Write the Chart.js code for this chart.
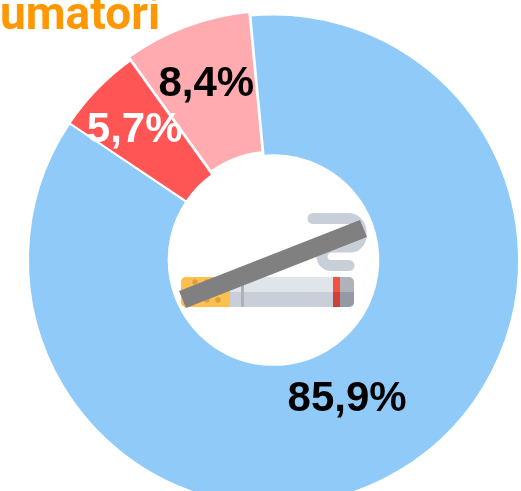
<!DOCTYPE html>
<html><head><meta charset="utf-8">
<style>html,body{margin:0;padding:0;background:#fff;overflow:hidden;width:521px;height:491px}
#w{position:absolute;left:0;top:0;width:547px;height:520px}</style>
<script src="https://cdn.jsdelivr.net/npm/chart.js@4"></script></head>
<body><div id="w"><canvas id="c" width="547" height="520"></canvas></div>
<script>
const categories = ['Non fumatori', 'Fumatori occasionali', 'Fumatori'];
const values = [85.9, 5.7, 8.4];
const valueLabels = ['85,9%', '5,7%', '8,4%'];
const titleText = 'umatori';

const sliceColors = ['#90CAF9', '#FF5555', '#FFABAF'];
const labelColors = ['#000000', '#FFFFFF', '#000000'];
const sliceOffsets = [0, 0, 10];
const labelOffsets = [[-16, -11], [-13, -8], [-4, -7]];

function pill(ctx, x, y, w, h, r, fill) {
  ctx.fillStyle = fill; ctx.beginPath(); ctx.roundRect(x, y, w, h, r); ctx.fill();
}
function drawIcon(ctx) {
  ctx.save();
  // smoke
  ctx.strokeStyle = '#C9CFD8'; ctx.lineWidth = 11; ctx.lineCap = 'round'; ctx.lineJoin = 'round';
  ctx.beginPath(); ctx.moveTo(313, 218.5); ctx.lineTo(346, 218.5);
  ctx.arcTo(361, 218.5, 361, 232, 13); ctx.arcTo(361, 247, 346, 247, 11); ctx.lineTo(335, 247);
  ctx.arcTo(322, 247, 322, 256, 10); ctx.arcTo(322, 265.5, 332, 265.5, 9); ctx.lineTo(349, 265.5);
  ctx.stroke();
  // cigarette
  pill(ctx, 181, 277, 173, 30, 5, '#E0E5E9');
  ctx.save(); ctx.beginPath(); ctx.roundRect(181, 277, 173, 30, 5); ctx.clip();
  ctx.fillStyle = '#C9CFD8'; ctx.fillRect(230, 292, 124, 15);
  ctx.fillStyle = '#FDBF50'; ctx.fillRect(181, 277, 49, 30);
  ctx.fillStyle = '#AEB3BA'; ctx.fillRect(340, 277, 14, 15);
  ctx.fillStyle = '#9499A3'; ctx.fillRect(340, 292, 14, 15);
  ctx.fillStyle = '#F4513F'; ctx.fillRect(333, 277, 7, 15);
  ctx.fillStyle = '#D0403A'; ctx.fillRect(333, 292, 7, 15);
  ctx.fillStyle = '#AEB3BA'; ctx.fillRect(241, 277, 3, 30);
  ctx.restore();
  ctx.fillStyle = '#D9A040';
  [[195, 282], [207, 282], [195, 300], [207, 300], [218, 300]].forEach(function (p) {
    ctx.beginPath(); ctx.arc(p[0], p[1], 2.7, 0, Math.PI * 2); ctx.fill();
  });
  // strike bar
  ctx.fillStyle = '#808080';
  ctx.beginPath(); ctx.moveTo(179, 291); ctx.lineTo(186, 308); ctx.lineTo(367, 237); ctx.lineTo(360, 220); ctx.closePath(); ctx.fill();
  ctx.restore();
}
const overlay = {
  id: 'overlay',
  afterDatasetsDraw(chart) {
    const ctx = chart.ctx;
    drawIcon(ctx);
    const arcs = chart.getDatasetMeta(0).data;
    ctx.save();
    ctx.font = 'bold 42px "Liberation Sans"';
    ctx.textAlign = 'center'; ctx.textBaseline = 'middle';
    arcs.forEach(function (a, i) {
      const p = a.tooltipPosition();
      ctx.fillStyle = labelColors[i];
      ctx.fillText(valueLabels[i], p.x + labelOffsets[i][0], p.y + labelOffsets[i][1]);
    });
    ctx.font = 'bold 46px Roboto';
    ctx.textAlign = 'left'; ctx.textBaseline = 'alphabetic';
    ctx.fillStyle = '#FF9800';
    ctx.fillText(titleText, 0, 29);
    ctx.restore();
  }
};
new Chart(document.getElementById('c'), {
  type: 'doughnut',
  data: { labels: categories, datasets: [{ data: values, backgroundColor: sliceColors, borderColor: '#FFFFFF', borderWidth: 2, offset: sliceOffsets }] },
  options: {
    responsive: false, animation: false, rotation: -5.4, radius: 245.5, cutout: '42.7%',
    layout: { padding: 0 },
    plugins: { legend: { display: false }, tooltip: { enabled: false }, title: { display: false } }
  },
  plugins: [overlay]
});
</script></body></html>
